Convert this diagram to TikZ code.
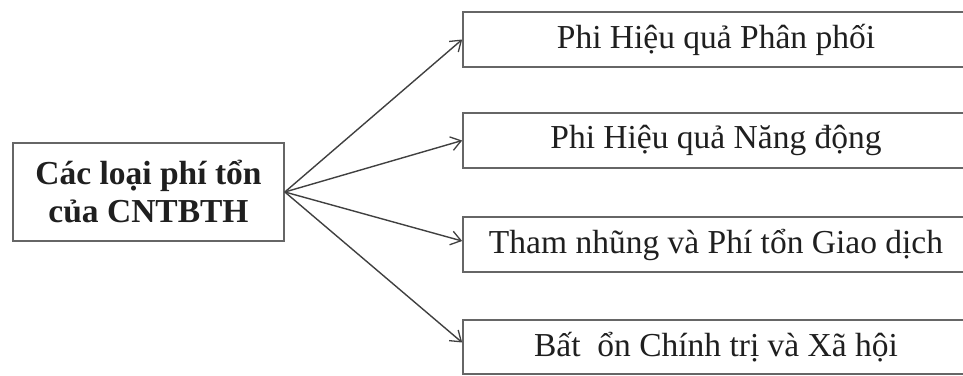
\documentclass[tikz,border=0pt]{standalone}
\usepackage{fontspec}
\setmainfont{Liberation Serif}
\usetikzlibrary{arrows.meta}
\tikzset{
  boxstyle/.style={draw=black!60, line width=1.7pt, inner sep=0pt, fill=white},
  leftbox/.style={boxstyle, minimum width=271pt, minimum height=98pt, align=center, font=\fontsize{33.5}{38}\selectfont\bfseries, text=black!88},
  rightbox/.style={boxstyle, minimum width=506pt, minimum height=55pt, font=\fontsize{33.5}{38}\selectfont, text=black!88},
  conn/.style={draw=black!75, line width=1.4pt, -{Straight Barb[length=10pt,width=14pt,line width=1.3pt]}}
}
\begin{document}
\begin{tikzpicture}[x=1pt,y=1pt]
\useasboundingbox (0,0) rectangle (963,-375);
\node[leftbox] (src) at (148.5,-192) {Các loại phí tổn\\của CNTBTH};
\node[rightbox] (b1) at (716,-39.5) {Phi Hiệu quả Phân phối};
\node[rightbox] (b2) at (716,-140.5) {Phi Hiệu quả Năng động};
\node[rightbox] (b3) at (716,-244.5) {Tham nhũng và Phí tổn Giao dịch};
\node[rightbox, minimum height=54pt] (b4) at (716,-347) {Bất\hspace{0.5em}ổn Chính trị và Xã hội};
\draw[conn] (src.east) -- (b1.west);
\draw[conn] (src.east) -- (b2.west);
\draw[conn] (src.east) -- ([yshift=3.5pt]b3.west);
\draw[conn] (src.east) -- ([yshift=4.5pt]b4.west);
\end{tikzpicture}
\end{document}
